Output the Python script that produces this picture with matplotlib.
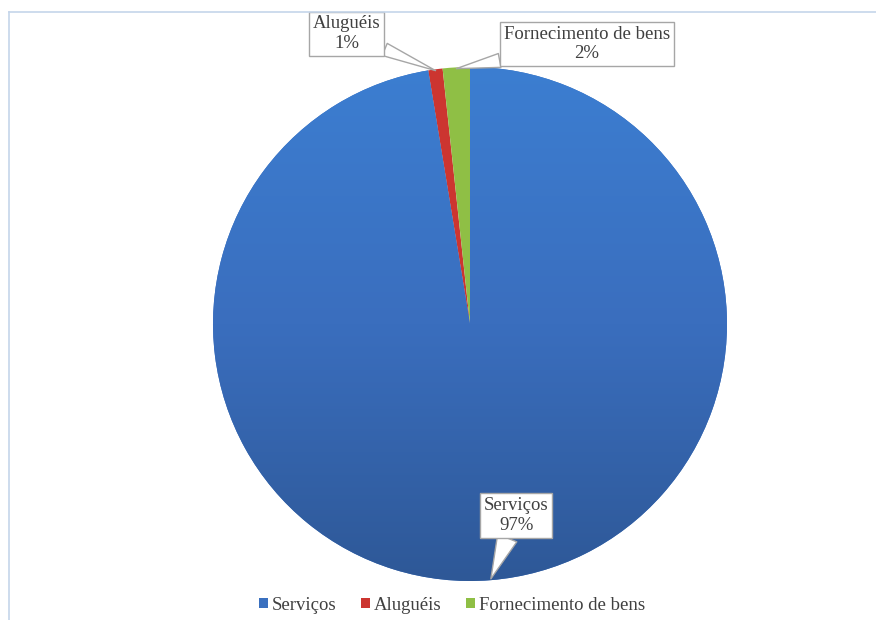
import numpy as np
import matplotlib.pyplot as plt
from matplotlib.colors import LinearSegmentedColormap
from matplotlib.lines import Line2D

# dados
categorias = ["Serviços", "Aluguéis", "Fornecimento de bens"]
valores = [97.4, 0.9, 1.7]
cores = ["#3A70BF", "#CC3530", "#8FBF45"]

# posicao das caixas de rotulo (em unidades do raio)
pos_rotulo = [(0.18, -0.745), (-0.48, 1.13), (0.455, 1.09)]
largura_ponta = [1.1, 0.7, 0.75]

W, H = 876, 620
cx, cy, R = 470, 324, 257

plt.rcParams['font.family'] = ['Liberation Serif', 'DejaVu Serif']

fig = plt.figure(figsize=(W / 100, H / 100), dpi=100)
ax = fig.add_axes([0, 0, 1, 1])

wedges, _ = ax.pie(valores, colors=cores, startangle=90, counterclock=False,
                   radius=1, wedgeprops=dict(linewidth=0))

# degrade vertical na fatia azul
grad = LinearSegmentedColormap.from_list("azul", ["#2E5897", "#3A6EBE", "#3C7ED1"])
img = ax.imshow(np.linspace(0, 1, 256).reshape(-1, 1), cmap=grad, origin="lower",
                extent=(-1, 1, -1, 1), aspect="auto", zorder=wedges[0].get_zorder() + 0.1)
img.set_clip_path(wedges[0])

for w, cat, v, pos, tw in zip(wedges, categorias, valores, pos_rotulo, largura_ponta):
    ang = np.deg2rad((w.theta1 + w.theta2) / 2)
    ponto = (0.995 * np.cos(ang), 0.995 * np.sin(ang))
    ax.annotate(f"{cat}\n{round(v)}%", xy=ponto, xytext=pos,
                ha="center", va="center", multialignment="center",
                fontsize=13.5, color="#404040",
                linespacing=1.2, annotation_clip=False, zorder=5,
                bbox=dict(boxstyle="square,pad=0.2", fc="white", ec="#A6A6A6", lw=1),
                arrowprops=dict(arrowstyle=f"wedge,tail_width={tw},shrink_factor=0.5",
                                fc="white", ec="#A6A6A6", lw=1,
                                shrinkA=0, shrinkB=0))

ax.set_xlim(-cx / R, (W - cx) / R)
ax.set_ylim(-(H - cy) / R, cy / R)
ax.set_aspect("equal", adjustable="box")
ax.axis("off")

leg = ax.legend(wedges, categorias, loc="center", bbox_to_anchor=(452 / W, 1 - 605 / H),
                bbox_transform=fig.transFigure, ncol=3, frameon=False, fontsize=13.5,
                handlelength=0.5, handleheight=0.5, handletextpad=0.2,
                columnspacing=1.3, borderpad=0)
for t in leg.get_texts():
    t.set_color("#404040")

# moldura clara no topo e a esquerda
fig.add_artist(Line2D([9 / W, 1], [1 - 12 / H, 1 - 12 / H], color="#C5D5EA", lw=1.2))
fig.add_artist(Line2D([9 / W, 9 / W], [0, 1 - 12 / H], color="#C5D5EA", lw=1.2))

fig.savefig("out.png", dpi=100)
